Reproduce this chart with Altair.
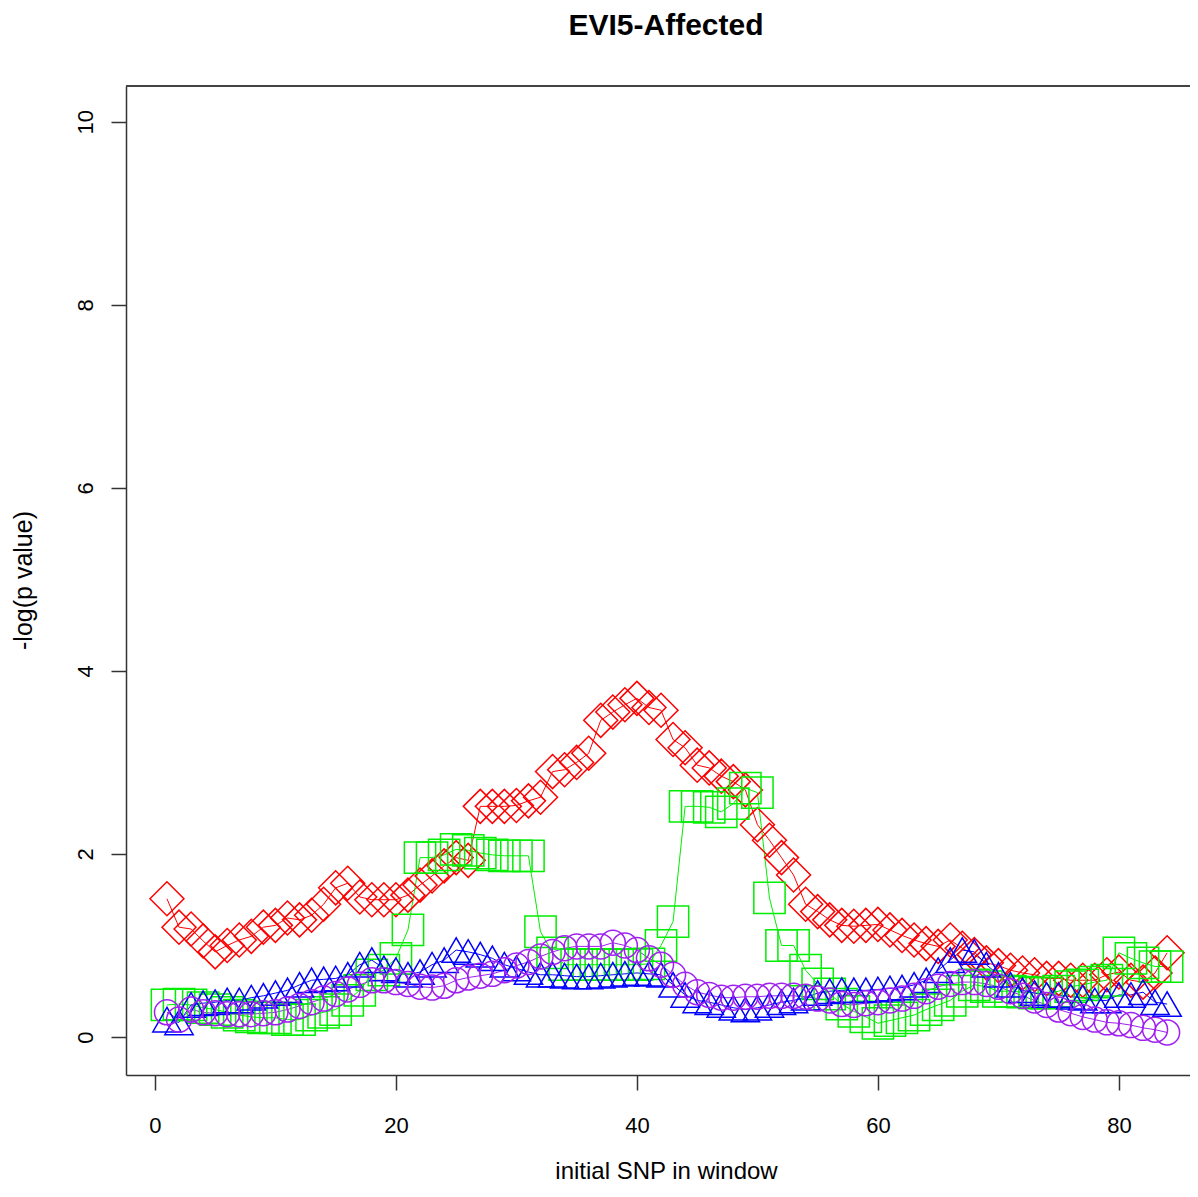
import altair as alt
import pandas as pd

snp = list(range(1, 85))

red = [1.51, 1.2, 1.18, 1.05, 0.93, 1.0, 1.06, 1.1, 1.2, 1.22, 1.3, 1.28, 1.33, 1.45, 1.63, 1.68, 1.53, 1.5, 1.5, 1.5,
       1.55, 1.66, 1.76, 1.87, 1.96, 1.93, 2.52, 2.52, 2.52, 2.53, 2.58, 2.62, 2.9, 2.92, 3.0, 3.1, 3.46, 3.55, 3.63, 3.7,
       3.6, 3.57, 3.25, 3.16, 2.97, 2.94, 2.85, 2.79, 2.7, 2.32, 2.15, 1.96, 1.77, 1.45, 1.37, 1.28, 1.22, 1.21, 1.22, 1.23,
       1.17, 1.11, 1.06, 1.02, 0.99, 1.06, 0.97, 0.9, 0.81, 0.78, 0.73, 0.7, 0.68, 0.64, 0.64, 0.62, 0.62, 0.62, 0.68, 0.71,
       0.62, 0.6, 0.7, 0.92]

green = [0.35, 0.36, 0.35, 0.32, 0.3, 0.27, 0.24, 0.22, 0.21, 0.21, 0.19, 0.19, 0.24, 0.27, 0.3, 0.4, 0.51, 0.68, 0.73, 0.86,
         1.17, 1.96, 1.96, 1.99, 2.05, 2.04, 2.01, 1.99, 1.98, 1.98, 1.98, 1.15, 0.92, 0.79, 0.79, 0.79, 0.79, 0.79, 0.79, 0.79,
         0.8, 1.0, 1.26, 2.52, 2.52, 2.51, 2.46, 2.55, 2.72, 2.67, 1.52, 1.0, 1.0, 0.73, 0.58, 0.47, 0.36, 0.28, 0.22, 0.15,
         0.18, 0.21, 0.24, 0.3, 0.35, 0.4, 0.5, 0.57, 0.55, 0.5, 0.5, 0.49, 0.48, 0.48, 0.5, 0.55, 0.57, 0.6, 0.62, 0.92,
         0.86, 0.81, 0.77, 0.77]

blue = [0.19, 0.16, 0.35, 0.37, 0.38, 0.4, 0.4, 0.43, 0.45, 0.48, 0.51, 0.57, 0.62, 0.63, 0.64, 0.68, 0.79, 0.84, 0.75, 0.73,
        0.68, 0.71, 0.79, 0.84, 0.95, 0.93, 0.9, 0.86, 0.79, 0.75, 0.71, 0.68, 0.68, 0.67, 0.66, 0.66, 0.67, 0.68, 0.69, 0.7,
        0.69, 0.68, 0.57, 0.46, 0.4, 0.38, 0.35, 0.32, 0.3, 0.32, 0.35, 0.38, 0.4, 0.43, 0.48, 0.5, 0.51, 0.51, 0.51, 0.52,
        0.53, 0.54, 0.57, 0.62, 0.73, 0.84, 0.95, 0.93, 0.79, 0.68, 0.57, 0.51, 0.48, 0.46, 0.46, 0.44, 0.43, 0.4, 0.4, 0.46,
        0.46, 0.49, 0.38, 0.36]

purple = [0.27, 0.19, 0.3, 0.27, 0.26, 0.25, 0.25, 0.25, 0.26, 0.27, 0.3, 0.34, 0.38, 0.42, 0.47, 0.52, 0.57, 0.62, 0.62, 0.6,
          0.58, 0.55, 0.54, 0.56, 0.62, 0.65, 0.67, 0.69, 0.73, 0.78, 0.82, 0.88, 0.93, 0.97, 0.99, 0.99, 0.99, 1.03, 1.0, 0.95,
          0.86, 0.79, 0.68, 0.57, 0.49, 0.46, 0.43, 0.43, 0.44, 0.44, 0.45, 0.45, 0.45, 0.44, 0.42, 0.4, 0.36, 0.35, 0.37, 0.38,
          0.4, 0.42, 0.45, 0.5, 0.55, 0.58, 0.6, 0.6, 0.58, 0.55, 0.5, 0.45, 0.4, 0.35, 0.3, 0.26, 0.22, 0.19, 0.16, 0.15,
          0.13, 0.1, 0.08, 0.05]

series_names = ["red", "green", "blue", "purple"]
series_colors = ["#FF0000", "#00EE00", "#0000FF", "#A020F0"]
series_shapes = ["diamond", "square", "triangle-up", "circle"]
series_sizes = [1156, 625, 784, 625]

x_ticks = [0, 20, 40, 60, 80]
y_ticks = [0, 2, 4, 6, 8, 10]

rows = []
for name, vals in zip(series_names, [red, green, blue, purple]):
    for xv, yv in zip(snp, vals):
        rows.append({"snp": xv, "p": yv, "series": name})
df = pd.DataFrame(rows)

FONT = "Liberation Sans"
W, H = 1064, 989

xscale = alt.Scale(domain=[-2.4, 85.9], nice=False, zero=False)
yscale = alt.Scale(domain=[-0.415, 10.39], nice=False, zero=False)

x_axis = alt.Axis(values=x_ticks, format="d", title="initial SNP in window", grid=False,
                  labelFont=FONT, labelFontSize=22, labelColor="black",
                  labelBaseline="top", labelPadding=25, labelFlush=False,
                  tickSize=15, tickWidth=1.5, tickColor="#333",
                  domainColor="#333", domainWidth=1.5,
                  titleFont=FONT, titleFontSize=24, titleFontWeight="normal", titleColor="black",
                  titleX=540, titleY=103, titleBaseline="alphabetic", titleAlign="center")
y_axis = alt.Axis(values=y_ticks, format="d", title="-log(p value)", grid=False,
                  labelFont=FONT, labelFontSize=22, labelColor="black",
                  labelAngle=270, labelAlign="center", labelBaseline="bottom", labelPadding=14,
                  labelFlush=False,
                  tickSize=15, tickWidth=1.5, tickColor="#333",
                  domainColor="#333", domainWidth=1.5,
                  titleFont=FONT, titleFontSize=25, titleFontWeight="normal", titleColor="black",
                  titleAngle=270, titleX=-90, titleY=494, titleBaseline="bottom", titleAlign="center")

color = alt.Color("series:N", scale=alt.Scale(domain=series_names, range=series_colors), legend=None)

lines = alt.Chart(df).mark_line(strokeWidth=1, clip=True).encode(
    x=alt.X("snp:Q", scale=xscale, axis=x_axis),
    y=alt.Y("p:Q", scale=yscale, axis=y_axis),
    color=color,
    detail="series:N",
)

points = alt.Chart(df).mark_point(filled=False, strokeWidth=1.5, opacity=1, clip=True).encode(
    x=alt.X("snp:Q", scale=xscale),
    y=alt.Y("p:Q", scale=yscale),
    color=color,
    shape=alt.Shape("series:N", scale=alt.Scale(domain=series_names, range=series_shapes), legend=None),
    size=alt.Size("series:N", scale=alt.Scale(domain=series_names, range=series_sizes), legend=None),
)

top_border = alt.Chart(pd.DataFrame({"k": [0]})).mark_rule(color="#444", strokeWidth=2).encode(
    x=alt.value(0), x2=alt.value(W), y=alt.value(0)
)

chart = alt.layer(lines, points, top_border).properties(
    width=W, height=H,
    autosize=alt.AutoSizeParams(type="none"),
    padding={"left": 118, "top": 78, "right": 0, "bottom": 108},
    title=alt.TitleParams(text="EVI5-Affected", font=FONT, fontSize=30, fontWeight="bold",
                          color="black", anchor="middle", dx=8, offset=44),
).configure_view(stroke=None)

chart.save("out.html", embed_options={"renderer": "svg", "actions": False})
